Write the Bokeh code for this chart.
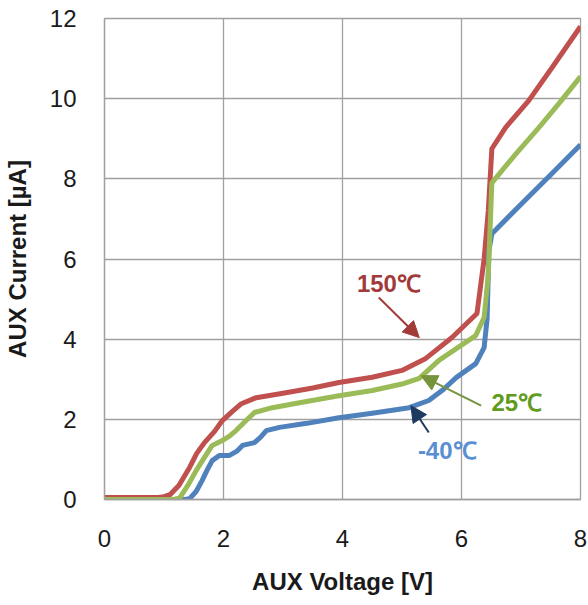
import math
from bokeh.plotting import figure
from bokeh.models import ColumnDataSource, Arrow, NormalHead, FixedTicker, Range1d
from bokeh.core.properties import value
from bokeh.embed import file_html
from bokeh.resources import INLINE

# ---- data ----
v_150 = [0, 0.9, 1.0, 1.1, 1.25, 1.43, 1.55, 1.68, 1.85, 1.98, 2.15, 2.3, 2.55, 3.0, 3.5, 3.94,
         4.5, 5.0, 5.4, 5.84, 6.26, 6.38, 6.45, 6.51, 6.74, 7.13, 7.52, 8.0]
i_150 = [0.05, 0.05, 0.07, 0.12, 0.35, 0.8, 1.15, 1.42, 1.7, 1.97, 2.2, 2.39, 2.54, 2.65, 2.78, 2.92,
         3.05, 3.22, 3.52, 4.04, 4.64, 6.0, 7.2, 8.75, 9.28, 9.95, 10.77, 11.8]

v_25 = [0, 1.15, 1.26, 1.4, 1.54, 1.68, 1.81, 1.98, 2.1, 2.21, 2.38, 2.52, 2.82, 3.3, 3.94, 4.5,
        5.0, 5.29, 5.62, 5.95, 6.24, 6.38, 6.45, 6.51, 6.9, 7.3, 7.65, 8.0]
i_25 = [0.0, 0.0, 0.03, 0.35, 0.72, 1.05, 1.35, 1.47, 1.58, 1.72, 1.97, 2.17, 2.29, 2.42, 2.59, 2.72,
        2.88, 3.02, 3.47, 3.8, 4.09, 4.54, 5.6, 7.9, 8.6, 9.28, 9.9, 10.55]

v_m40 = [0, 1.35, 1.43, 1.54, 1.64, 1.73, 1.81, 1.93, 2.1, 2.22, 2.32, 2.52, 2.62, 2.72, 2.94, 3.4,
         3.94, 4.5, 5.12, 5.45, 5.7, 5.91, 6.24, 6.38, 6.43, 6.46, 6.51, 7.01, 7.5, 8.0]
i_m40 = [0, 0, 0.02, 0.2, 0.47, 0.75, 0.97, 1.1, 1.1, 1.2, 1.35, 1.42, 1.55, 1.72, 1.8, 1.9,
         2.04, 2.15, 2.29, 2.47, 2.75, 3.04, 3.39, 3.79, 4.5, 6.2, 6.63, 7.38, 8.1, 8.85]

x_ticks = [0, 2, 4, 6, 8]
y_ticks = [0, 2, 4, 6, 8, 10, 12]

labels = ["150\u2103", "25\u2103", "-40\u2103"]
label_x = [4.78, 6.93, 5.76]
label_y = [5.40, 2.41, 1.22]
label_colors = ["#a23a3a", "#5f9b1c", "#5b8fd4"]

arrow_x0 = [4.61, 6.33, 5.45]
arrow_y0 = [5.04, 2.34, 1.67]
arrow_x1 = [5.29, 5.32, 5.15]
arrow_y1 = [4.04, 3.09, 2.34]
arrow_colors = ["#a23a3a", "#77933c", "#1f3a60"]

FONT = "Liberation Sans"
GRID = "#a0a0a0"

p = figure(width=588, height=605, output_backend="svg", toolbar_location=None,
           x_range=Range1d(0, 8), y_range=Range1d(0, 12),
           min_border_left=104, min_border_right=8, min_border_top=18, min_border_bottom=106)
p.background_fill_color = "white"
p.border_fill_color = "white"
p.outline_line_color = GRID
p.outline_line_width = 1.3

for ax in (p.xaxis, p.yaxis):
    ax.major_tick_line_color = None
    ax.minor_tick_line_color = None
    ax.axis_line_color = GRID
    ax.axis_line_width = 1.3
    ax.major_label_text_font = FONT
    ax.major_label_text_font_size = "24px"
    ax.major_label_text_color = "#1a1a1a"
    ax.axis_label_text_font = FONT
    ax.axis_label_text_font_style = "bold"
    ax.axis_label_text_font_size = "24px"
    ax.axis_label_text_color = "#1a1a1a"

p.xaxis.ticker = FixedTicker(ticks=x_ticks)
p.yaxis.ticker = FixedTicker(ticks=y_ticks)
p.xaxis.major_label_standoff = 24
p.yaxis.major_label_standoff = 22
p.xaxis.axis_label = "AUX Voltage [V]"
p.yaxis.axis_label = "AUX Current [\u00b5A]"
p.xaxis.axis_label_standoff = 18
p.yaxis.axis_label_standoff = 16

for g in (p.xgrid, p.ygrid):
    g.grid_line_color = GRID
    g.grid_line_width = 1.3
p.xgrid.ticker = FixedTicker(ticks=x_ticks)
p.ygrid.ticker = FixedTicker(ticks=y_ticks)

# curves: red first, then blue, green on top
p.line(v_150, i_150, line_color="#c0504d", line_width=5, line_join="round")
p.line(v_m40, i_m40, line_color="#4f81bd", line_width=5, line_join="round")
p.line(v_25, i_25, line_color="#9bbb59", line_width=5, line_join="round")

# arrows
for xs, ys, xe, ye, c in zip(arrow_x0, arrow_y0, arrow_x1, arrow_y1, arrow_colors):
    p.add_layout(Arrow(x_start=xs, y_start=ys, x_end=xe, y_end=ye,
                       line_color=c, line_width=2,
                       end=NormalHead(size=16, fill_color=c, line_color=c)))

src = ColumnDataSource(dict(x=label_x, y=label_y, t=labels, c=label_colors))
p.text(x="x", y="y", text="t", text_color="c", source=src,
       text_font=value(FONT), text_font_style="bold", text_font_size="24px",
       text_align="center", text_baseline="middle")

open("out.html", "w").write(file_html(p, INLINE))
